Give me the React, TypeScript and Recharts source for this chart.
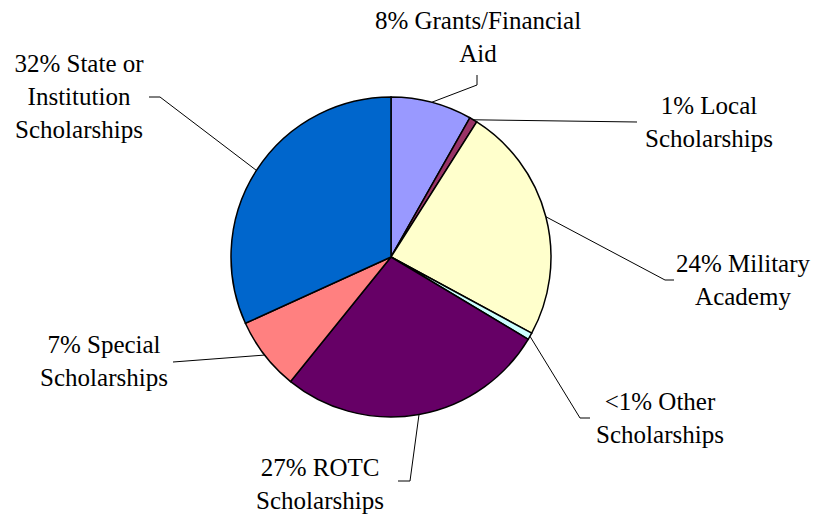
import { PieChart, Pie, Cell } from "recharts";

const categories = [
  "Grants/Financial Aid",
  "Local Scholarships",
  "Military Academy",
  "Other Scholarships",
  "ROTC Scholarships",
  "Special Scholarships",
  "State or Institution Scholarships",
];
const shares = [8.2, 0.8, 23.9, 0.7, 27.2, 7.4, 31.8];
const labelLines = [
  ["8% Grants/Financial", "Aid"],
  ["1% Local", "Scholarships"],
  ["24% Military", "Academy"],
  ["<1% Other", "Scholarships"],
  ["27% ROTC", "Scholarships"],
  ["7% Special", "Scholarships"],
  ["32% State or", "Institution", "Scholarships"],
];
const colors = ["#9999FF", "#993366", "#FFFFCC", "#CCFFFF", "#660066", "#FF8080", "#0066CC"];

// where each label sits and how its leader line bends (layout only)
const labelLayout = [
  { x: 478, y: 29, bend: [[477, 85], [477, 75]] },
  { x: 709, y: 114, bend: [[637, 122]] },
  { x: 743, y: 272, bend: [[665, 280], [674, 280]] },
  { x: 660, y: 410, bend: [[580, 418], [590, 418]] },
  { x: 320, y: 476, bend: [[410, 481], [398, 481]] },
  { x: 104, y: 353, bend: [[173, 362]] },
  { x: 79, y: 72, bend: [[160, 97], [149, 97]] },
];

const data = categories.map((name, i) => ({ name, value: shares[i] }));

const FONT = "Liberation Serif, Tinos, Times New Roman, DejaVu Serif, serif";
const RAD = Math.PI / 180;

function SliceLabel(props: any) {
  const { cx, cy, midAngle, outerRadius, index } = props;
  const sx = cx + outerRadius * Math.cos(-midAngle * RAD);
  const sy = cy + outerRadius * Math.sin(-midAngle * RAD);
  const lay = labelLayout[index];
  const pts = [[sx, sy], ...lay.bend].map((p) => p.join(",")).join(" ");
  return (
    <g style={{ fontFamily: FONT }}>
      <polyline points={pts} fill="none" stroke="#000" strokeWidth={1} />
      <text
        x={lay.x}
        y={lay.y}
        textAnchor="middle"
        fill="#000"
        fontFamily={FONT}
        fontSize={25}
        style={{ fontFamily: FONT, fontSize: 25 }}
      >
        {labelLines[index].map((line, k) => (
          <tspan key={k} x={lay.x} dy={k === 0 ? 0 : 33} style={{ fontFamily: FONT }}>
            {line}
          </tspan>
        ))}
      </text>
    </g>
  );
}

export default function App() {
  return (
    <div
      style={{
        position: "absolute",
        left: 0,
        top: 0,
        width: 814,
        height: 517,
        background: "#fff",
        fontFamily: FONT,
      }}
    >
      <PieChart width={814} height={517} margin={{ top: 0, right: 0, bottom: 0, left: 0 }}>
        <Pie
          data={data}
          dataKey="value"
          nameKey="name"
          cx={391}
          cy={257}
          outerRadius={160}
          startAngle={90}
          endAngle={-270}
          stroke="#000"
          strokeWidth={1.5}
          label={SliceLabel}
          labelLine={false}
          isAnimationActive={false}
        >
          {data.map((_, i) => (
            <Cell key={i} fill={colors[i]} />
          ))}
        </Pie>
      </PieChart>
    </div>
  );
}
